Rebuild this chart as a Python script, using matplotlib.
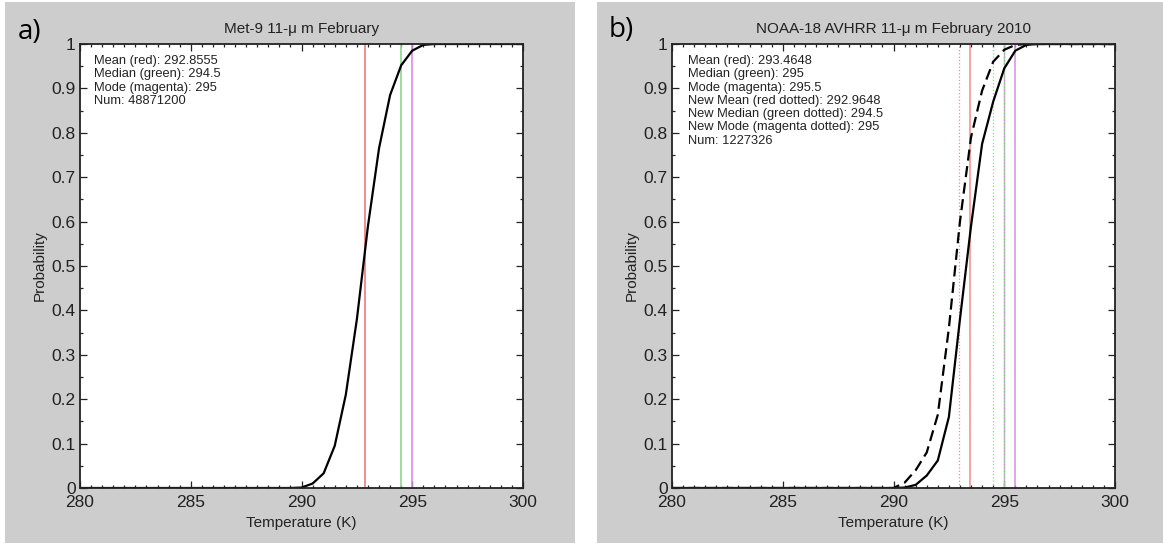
import matplotlib
matplotlib.use("Agg")
import matplotlib.pyplot as plt
from matplotlib.patches import Rectangle
from matplotlib.ticker import MultipleLocator, FuncFormatter

plt.rcParams['font.family'] = ['Liberation Sans', 'DejaVu Sans']

# panel a) Met-9 11 micron, February : cumulative probability
temp_a = [280.0, 289.5, 290.0, 290.5, 291.0, 291.5, 292.0, 292.5, 293.0,
          293.5, 294.0, 294.5, 295.0, 295.5, 296.0, 300.0]
prob_a = [0.0, 0.0, 0.001, 0.01, 0.033, 0.095, 0.21, 0.38, 0.59,
          0.765, 0.885, 0.952, 0.985, 0.998, 1.0, 1.0]
mean_a = 292.8555
median_a = 294.5
mode_a = 295
num_a = 48871200

# panel b) NOAA-18 AVHRR 11 micron, February 2010
temp_b = [280.0, 290.0, 290.5, 291.0, 291.5, 292.0, 292.5, 293.0, 293.5,
          294.0, 294.5, 295.0, 295.5, 296.0, 296.5, 300.0]
prob_b = [0.0, 0.0, 0.001, 0.007, 0.028, 0.062, 0.16, 0.38, 0.59,
          0.775, 0.87, 0.945, 0.985, 0.998, 1.0, 1.0]
# shifted distribution (dashed)
temp_b_new = [280.0, 289.5, 290.0, 290.5, 291.0, 291.5, 292.0, 292.5, 293.0,
              293.5, 294.0, 294.5, 295.0, 295.5, 296.0, 300.0]
prob_b_new = [0.0, 0.0, 0.0, 0.012, 0.04, 0.08, 0.165, 0.36, 0.60,
              0.79, 0.895, 0.96, 0.987, 0.998, 1.0, 1.0]
mean_b = 293.4648
median_b = 295
mode_b = 295.5
new_mean_b = 292.9648
new_median_b = 294.5
new_mode_b = 295
num_b = 1227326

RED = '#f28c8c'
GREEN = '#8ed68e'
MAGENTA = '#d98be6'
BG = '#cdcdcd'
W, H = 1163, 548

fig = plt.figure(figsize=(W / 100, H / 100), dpi=100)
fig.patch.set_facecolor('white')

# grey panel backgrounds
for x0, x1 in [(5, 575), (597, 1163)]:
    fig.patches.append(Rectangle((x0 / W, 5 / H), (x1 - x0) / W, 541 / H,
                                 transform=fig.transFigure, facecolor=BG,
                                 edgecolor='none', zorder=-5))


def setup(ax, title):
    ax.set_facecolor('white')
    ax.set_xlim(280, 300)
    ax.set_ylim(0, 1)
    ax.xaxis.set_major_locator(MultipleLocator(5))
    ax.xaxis.set_minor_locator(MultipleLocator(0.5))
    ax.yaxis.set_major_locator(MultipleLocator(0.1))
    ax.yaxis.set_minor_locator(MultipleLocator(0.05))
    ax.yaxis.set_major_formatter(FuncFormatter(lambda v, p: f"{v:g}"))
    ax.tick_params(which='both', direction='in', top=True, right=True,
                   width=0.9, colors='#222222')
    ax.tick_params(which='major', length=5, labelsize=12.5)
    ax.tick_params(which='minor', length=2.5)
    ax.tick_params(axis='x', pad=5)
    ax.tick_params(axis='y', pad=3)
    for s in ax.spines.values():
        s.set_linewidth(1.3)
        s.set_color('#222222')
    ax.set_title(title, fontsize=11, pad=8, color='#222222')
    ax.set_xlabel('Temperature (K)', fontsize=11, color='#222222')
    ax.set_ylabel('Probability', fontsize=11, color='#222222')
    ax.xaxis.set_label_coords(0.5, -0.062)
    ax.yaxis.set_label_coords(-0.075, 0.5)


# ---- a)
ax1 = fig.add_axes([80 / W, 60 / H, 443 / W, 444 / H])
setup(ax1, 'Met-9 11-\u03bc m February')
ax1.axvline(mean_a, color=RED, lw=1.4)
ax1.axvline(median_a, color=GREEN, lw=1.2)
ax1.axvline(mode_a, color=MAGENTA, lw=1.2)
ax1.plot(temp_a, prob_a, color='black', lw=1.6)
ax1.text(0.032, 0.975,
         f"Mean (red): {mean_a}\nMedian (green): {median_a}\n"
         f"Mode (magenta): {mode_a}\nNum: {num_a}",
         transform=ax1.transAxes, va='top', ha='left', fontsize=9.3,
         linespacing=1.14, color='#222222')

# ---- b)
ax2 = fig.add_axes([672 / W, 60 / H, 443 / W, 444 / H])
setup(ax2, 'NOAA-18 AVHRR 11-\u03bc m February 2010')
ax2.axvline(new_mean_b, color=RED, lw=0.9, ls=':')
ax2.axvline(mean_b, color=RED, lw=1.1)
ax2.axvline(new_median_b, color=GREEN, lw=0.9, ls=':')
ax2.axvline(median_b, color=GREEN, lw=1.0)
ax2.axvline(new_mode_b, color=MAGENTA, lw=0.9, ls=':')
ax2.axvline(mode_b, color=MAGENTA, lw=1.1)
ax2.plot(temp_b, prob_b, color='black', lw=1.6)
ax2.plot(temp_b_new, prob_b_new, color='black', lw=1.6, ls=(0, (5, 2.5)))
ax2.text(0.036, 0.975,
         f"Mean (red): {mean_b}\nMedian (green): {median_b}\n"
         f"Mode (magenta): {mode_b}\n"
         f"New Mean (red dotted): {new_mean_b}\n"
         f"New Median (green dotted): {new_median_b}\n"
         f"New Mode (magenta dotted): {new_mode_b}\nNum: {num_b}",
         transform=ax2.transAxes, va='top', ha='left', fontsize=9.3,
         linespacing=1.14, color='#222222')

# panel letters
fig.text(18 / W, 1 - 32 / H, 'a)', fontsize=20, family=['Open Sans', 'DejaVu Sans'],
         va='center', ha='left')
fig.text(609 / W, 1 - 30 / H, 'b)', fontsize=20, family=['Open Sans', 'DejaVu Sans'],
         va='center', ha='left')

fig.savefig('out.png', dpi=100)
